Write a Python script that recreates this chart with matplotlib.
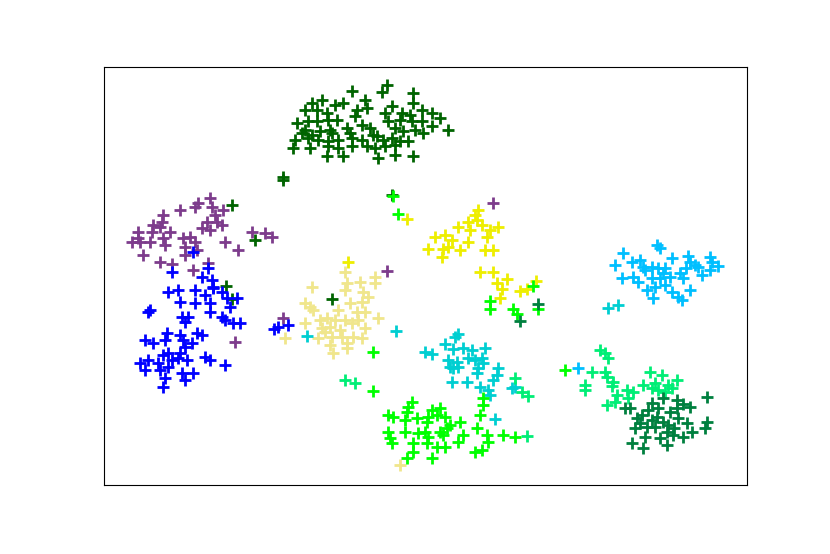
import matplotlib
matplotlib.use("Agg")
import matplotlib.pyplot as plt
import numpy as np

# point positions (x right, y down)
dark_green = [
    (386.7, 84.7), (381.7, 92), (351.7, 91.3), (413.3, 93),
    (321.7, 99.7), (311.7, 103), (335, 104.7), (343.3, 103), (365, 99.7), (366.7, 108),
    (391.7, 106.3), (413.3, 103), (421.7, 109.7),
    (305, 109.7), (316.7, 109.7), (326.7, 113), (356.7, 109.7), (355, 116.3), (385, 113),
    (401.7, 113), (410, 114.7), (431.7, 113), (440, 118),
    (296.7, 123), (308.3, 121.3), (316.7, 121.3), (328.3, 119.7), (336.7, 119.7),
    (361.7, 124.7), (388.3, 121.3), (400, 119.7), (411.7, 121.3), (421.7, 121.3), (431.7, 126.3),
    (305, 129.7), (301.7, 133), (311.7, 134.7), (320, 131.3), (330, 129.7), (331.7, 133),
    (346.7, 128), (350, 133), (370, 128), (373.3, 134.7), (395, 128), (403.3, 131.3),
    (415, 129.7), (423.3, 133), (448.3, 129.7),
    (295, 139.7), (308.3, 138), (318.3, 139.7), (328.3, 141.3), (338.3, 139.7), (351.7, 138),
    (361.7, 139.7), (376.7, 136.3), (383.3, 139.7), (391.7, 138), (400, 141.3), (408.3, 141.3),
    (293.3, 148), (310, 148), (328.3, 146.3), (338.3, 148), (351.7, 146.3), (366.7, 146.3),
    (375, 148), (385, 146.3), (395, 144.7),
    (326.7, 156.3), (343.3, 156.3), (378.3, 158), (395, 154.7), (413.3, 156.3),
    (283.3, 176.5), (283.3, 180), (232.3, 205.3), (254.7, 240.3), (225.7, 286),
    (232.3, 299), (331.7, 299.3), (391.7, 195.3),
]

purple = [
    (210, 198.3), (198.3, 203.3), (195, 207.3), (180, 210), (211.7, 207.3), (223.3, 210),
    (215, 215), (163.3, 215), (161.7, 221.7), (153.3, 225), (160, 226.7), (206.7, 221.7),
    (216.7, 221.7), (221.7, 225), (201.7, 228.3), (210, 230), (138.3, 231.7), (151.7, 231.7),
    (170, 231.7), (251.7, 231.7), (265, 233.3), (271.7, 236.7), (131.7, 241.7), (140, 241.7),
    (150, 241.7), (163.3, 238.3), (183.3, 238.3), (190, 236.7), (195, 241.7), (225, 241.7),
    (165, 245), (185, 246.7), (196.7, 250), (238.3, 250), (143.3, 255), (185, 255),
    (160, 261.7), (171.7, 264), (208.3, 263.3), (193.3, 270), (138.3, 238.3),
    (235, 341.7), (283, 317.7), (386.7, 270.7), (492.7, 203),
]

blue = [
    (193.3, 251.7), (171.7, 271.7), (208.3, 268.3), (201.7, 277.3), (211.7, 280), (213.3, 286.7),
    (168.3, 291.7), (178.3, 290), (195, 290), (205, 295), (213.3, 288.3), (221.7, 291.7),
    (180, 301.7), (195, 303.3), (210, 303.3), (226.7, 298.3), (236.7, 298.3), (230, 306.7),
    (150, 310), (181.7, 316.7), (188.3, 316.7), (185, 321.7), (210, 311.7), (221.7, 316.7),
    (225, 320), (233.3, 323.3), (240, 323.3), (166.7, 333.3), (180, 335), (196.7, 333.3),
    (201.7, 335), (145, 340), (153.3, 343.3), (165, 340), (183.3, 340), (191.7, 343.3),
    (185, 346.7), (168.3, 353.3), (180, 353.3), (163.3, 355), (140, 363.3), (148.3, 360),
    (158.3, 363.3), (171.7, 360), (178.3, 358.3), (186.7, 360), (205, 356.7), (210, 360),
    (225, 365), (145, 370), (160, 370), (168.3, 366.7), (181.7, 373.3), (193.3, 373.3),
    (165, 378.3), (185, 380), (163.3, 386.7), (148, 312),
    (274, 329.3), (278.3, 326.5), (288.3, 325.3),
]

khaki = [
    (345, 271.7), (375, 276.7), (311.7, 287.3), (346.7, 283.3), (360, 281.7), (375, 283.3),
    (345, 290), (363.3, 291.7), (368.3, 296.7), (305, 302.7), (310, 306.7), (313.3, 310),
    (350, 303.3), (361.7, 301.7), (338.3, 310), (356.7, 311.7), (365, 311.7), (305, 323.3),
    (320, 320), (326.7, 318.3), (335, 320), (345, 320), (358.3, 320), (378.3, 318.3),
    (321.7, 328.3), (330, 326.7), (340, 330), (365, 328.3), (285, 338.3), (318.3, 338.3),
    (331.7, 336.7), (341.7, 336.7), (353.3, 336.7), (361.7, 338.3), (330, 345), (346.7, 343.3),
    (346.7, 348.3), (333.3, 353.3), (325, 331.7), (351.7, 323.3), (400, 465.3),
]

yellow = [
    (478.3, 210.3), (475, 215.3), (476.7, 220.3), (468.3, 222), (458.3, 227), (470, 230.3),
    (481.7, 225.3), (490, 230.3), (498.3, 227), (435, 237), (445, 235.3), (451.7, 240.3),
    (443.3, 248.7), (448.3, 247), (460, 250.3), (468.3, 242), (486.7, 237), (428.3, 248.7),
    (441.7, 257), (485, 250.3), (493.3, 250.3), (480, 272), (493.3, 272), (406.7, 218.7),
    (496.7, 282.7), (506.7, 279.3), (501.7, 289.3), (500, 298), (520, 291), (527, 289),
    (536, 281), (347.7, 262.3),
]

dark_turquoise = [
    (395.7, 330.7), (455, 336.7), (458.3, 334.3), (445, 344.3), (453.3, 349), (463.3, 347.7),
    (471.7, 350), (485, 347.7), (425, 351.7), (431.7, 354.3), (448.3, 360), (456.7, 361.7),
    (450, 366.7), (468.3, 358.3), (475, 360), (481.7, 357.7), (483.3, 363.3), (478.3, 368.3),
    (476.7, 373.3), (453.3, 368.3), (458.3, 366.7), (498.3, 368.3), (496.7, 375), (493.3, 380),
    (451.7, 381.7), (466.7, 381.7), (480, 386.7), (488.3, 390), (490, 395), (511.7, 388.3),
    (515, 386.7), (495, 419.3), (306.7, 336), (608.3, 308.3), (618.3, 305),
]

lime = [
    (411.7, 401.7), (408.3, 406.7), (406.7, 411.7), (388.3, 415), (393.3, 416.7), (388.3, 431.7),
    (390, 438.3), (391.7, 443.3), (405, 420), (405, 431.7), (416.7, 418.3), (426.7, 421.7),
    (428.3, 416.7), (431.7, 410), (440, 408.3), (436.7, 415), (445, 416.7), (418.3, 433.3),
    (425, 431.7), (428.3, 436.7), (440, 431.7), (446.7, 428.3), (450, 425), (443.3, 435),
    (460, 421.7), (463.3, 435), (458.3, 441.7), (436.7, 446.7), (445, 446.7), (413.3, 443.3),
    (426.7, 443.3), (413.3, 451.7), (406.7, 458.3), (431.7, 458.3), (483.3, 398.3), (483.3, 405),
    (480, 415), (476.7, 428.3), (486.7, 435), (488.3, 441.7), (475, 451.7), (481.7, 450),
    (503.3, 435), (515, 436.7),
    (373.3, 351.5), (372.7, 391), (490, 301), (490, 309.3), (513.3, 309.3), (516.7, 314.3),
    (537.7, 309.3), (533.3, 286), (565, 370), (398.3, 214.3), (392.7, 196.3),
]

spring_green = [
    (345, 380), (355, 383.3), (515, 378.3), (521.7, 391.7), (528.3, 395.7), (526.7, 436),
    (600, 350), (605, 353.3), (608.3, 358.3), (591.7, 371.7), (585, 385), (585, 390),
    (605, 371.7), (606.7, 376.7), (613.3, 381.7), (616.7, 395), (626.7, 390), (628.3, 398.3),
    (606.7, 405), (615, 401.7), (650, 371.7), (661.7, 375), (676.7, 380), (643.3, 385),
    (651.7, 388.3), (658.3, 390), (665, 391.7), (671.7, 388.3), (612, 386), (633, 392),
    (655, 383), (668, 385),
]

deep_sky_blue = [
    (656.7, 245), (660, 248.3), (623.3, 253.3), (615, 265), (631.7, 261.7), (640, 260),
    (671.7, 257.7), (688.3, 255.7), (690, 261.7), (710, 256.7), (711.7, 261.7), (718.3, 265.7),
    (698.3, 266.7), (651.7, 266.7), (658.3, 268.3), (665, 268.3), (645, 270), (633.3, 276.7),
    (621.7, 278.3), (638.3, 281.7), (651.7, 278.3), (660, 278.3), (670, 276.7), (680, 273.3),
    (683.3, 278.3), (701.7, 275), (710, 270), (655, 286.7), (665, 285), (671.7, 291.7),
    (646.7, 290), (653.3, 298.3), (678.3, 296.7), (690, 290), (681.7, 300), (643.3, 266.7),
    (695, 265), (578.3, 368.3), (686, 268), (663, 273),
]

sea_green = [
    (706.7, 396.7), (706.7, 421.7), (705, 428.3), (690, 406.7), (676.7, 400), (663.3, 398.3),
    (651.7, 403.3), (630, 408.3), (641.7, 415), (635, 428.3), (646.7, 426.7), (656.7, 416.7),
    (663.3, 421.7), (666.7, 431.7), (676.7, 408.3), (678.3, 418.3), (686.7, 423.3), (691.7, 431.7),
    (655, 426.7), (673.3, 435), (683.3, 436.7), (631.7, 443.3), (643.3, 448.3), (666.7, 445),
    (645, 436.7), (636.7, 418.3), (668.3, 425), (658.3, 408.3), (625, 408), (648, 410),
    (670, 412), (683, 404), (652, 420), (674, 428), (660, 438), (640, 423),
    (538.3, 304.3), (520, 321),
]

groups = [
    (purple, "#7d3c8c"),
    (dark_green, "#006400"),
    (blue, "#0000ff"),
    (khaki, "#f0e68c"),
    (yellow, "#eeee00"),
    (dark_turquoise, "#00ced1"),
    (lime, "#00ff00"),
    (spring_green, "#00ee76"),
    (deep_sky_blue, "#00bfff"),
    (sea_green, "#00803f"),
]

fig = plt.figure(figsize=(8.3, 5.54), dpi=100)
ax = fig.add_axes([104 / 830, 69 / 554, 643 / 830, 418 / 554])

for points, color in groups:
    xy = np.array(points)
    ax.scatter(xy[:, 0], xy[:, 1], marker="+", s=75, linewidths=2.0, color=color)

ax.set_xlim(104, 747)
ax.set_ylim(485, 67)
ax.set_xticks([])
ax.set_yticks([])

fig.savefig("out.png", dpi=100)
